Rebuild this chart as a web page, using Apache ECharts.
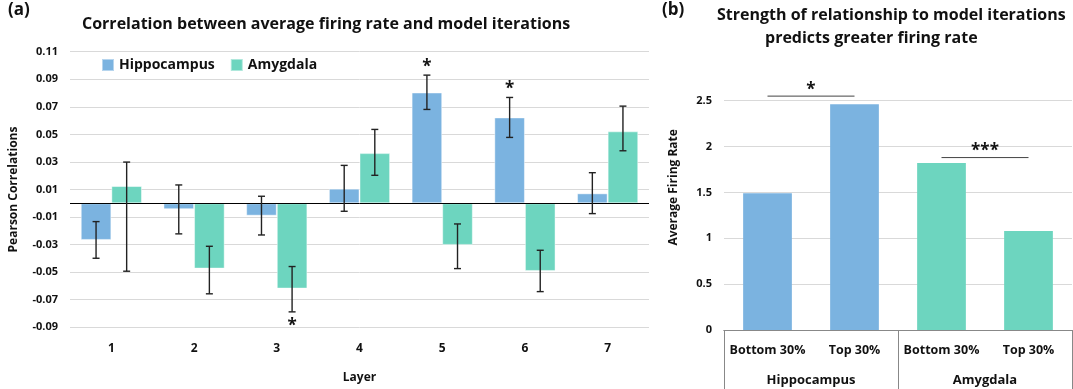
<!DOCTYPE html>
<html>
<head>
<meta charset="utf-8">
<script src="https://cdn.jsdelivr.net/npm/echarts@6/dist/echarts.min.js"></script>
<style>
html,body{margin:0;padding:0;background:#fff;}
#chart{width:1073px;height:389px;}
</style>
</head>
<body>
<div id="chart"></div>
<script>
// ---------- Data: panel (a) ----------
var layers = ['1', '2', '3', '4', '5', '6', '7'];
var hippo = [-0.0266, -0.0043, -0.0090, 0.0106, 0.0804, 0.0623, 0.0072];
var amyg = [0.0125, -0.0474, -0.0619, 0.0364, -0.0302, -0.0491, 0.0522];
var hippoErrHigh = [-0.0133, 0.0133, 0.0051, 0.0275, 0.0930, 0.0768, 0.0222];
var hippoErrLow = [-0.0399, -0.0222, -0.0230, -0.0058, 0.0681, 0.0478, -0.0075];
var amygErrHigh = [0.0299, -0.0312, -0.0459, 0.0536, -0.0150, -0.0341, 0.0705];
var amygErrLow = [-0.0493, -0.0657, -0.0788, 0.0203, -0.0474, -0.0641, 0.0381];
var hippoSig = ['', '', '', '', '*', '*', ''];
var amygSig = ['', '', '*', '', '', '', ''];
var yTicksA = { min: -0.09, max: 0.11, step: 0.02 };

// ---------- Data: panel (b) ----------
var groupLabels = ['Bottom 30%', 'Top 30%', 'Bottom 30%', 'Top 30%'];
var regions = ['Hippocampus', 'Amygdala'];
var barRegion = [0, 0, 1, 1];
var firingRate = [1.49, 2.46, 1.82, 1.08];
var sigFrom = [0, 2];
var sigTo = [1, 3];
var sigLevel = [2.55, 1.88];
var sigText = ['*', '***'];
var yTicksB = { min: 0, max: 2.5, step: 0.5 };

// ---------- Styles ----------
var BLUE = '#7BB3E0';
var GREEN = '#6DD5BF';
var FONT = '"Open Sans", "Noto Sans", sans-serif';
var regionColors = [BLUE, GREEN];
var CAT_GAP = 0.26;

function errSeries(name, values, lows, highs, sigs, side) {
  var data = values.map(function (v, i) { return [i, lows[i], highs[i], v]; });
  return {
    name: name + ' err',
    type: 'custom',
    xAxisIndex: 0, yAxisIndex: 0,
    z: 10,
    silent: true,
    renderItem: function (params, api) {
      var idx = api.value(0);
      var band = api.size([1, 0])[0];
      var bw = band * (1 - CAT_GAP) / 2;
      var hi = api.coord([idx, api.value(2)]);
      var lo = api.coord([idx, api.value(1)]);
      var x = hi[0] + side * bw / 2;
      var cap = 3.5;
      var style = { stroke: '#222', lineWidth: 1.4 };
      var children = [
        { type: 'line', shape: { x1: x, y1: hi[1], x2: x, y2: lo[1] }, style: style },
        { type: 'line', shape: { x1: x - cap, y1: hi[1], x2: x + cap, y2: hi[1] }, style: style },
        { type: 'line', shape: { x1: x - cap, y1: lo[1], x2: x + cap, y2: lo[1] }, style: style }
      ];
      var sig = sigs[idx];
      if (sig) {
        var positive = api.value(3) >= 0;
        children.push({
          type: 'text',
          style: {
            text: sig, x: x, y: positive ? hi[1] - 8 : lo[1] + 14,
            align: 'center', verticalAlign: 'middle',
            font: 'bold 17px ' + FONT, fill: '#111'
          }
        });
      }
      return { type: 'group', children: children };
    },
    encode: { x: 0, y: [1, 2] },
    data: data
  };
}

var boldLabel = { fontFamily: FONT, fontWeight: 'bold', color: '#111' };

var option = {
  animation: false,
  backgroundColor: '#fff',
  textStyle: { fontFamily: FONT },
  title: [
    { text: '(a)', left: 8, top: 2, padding: 0, textStyle: { fontFamily: FONT, fontWeight: 'bold', fontSize: 17, color: '#111' } },
    { text: 'Correlation between average firing rate and model iterations', left: 82, top: 16, padding: 0, textStyle: { fontFamily: FONT, fontWeight: 'bold', fontSize: 16, color: '#111' } },
    { text: '(b)', left: 662, top: 2, padding: 0, textStyle: { fontFamily: FONT, fontWeight: 'bold', fontSize: 17, color: '#111' } },
    { text: 'Strength of relationship to model iterations', left: 717, top: 7, padding: 0, textStyle: { fontFamily: FONT, fontWeight: 'bold', fontSize: 16, color: '#111' } },
    { text: 'predicts greater firing rate', left: 765, top: 30, padding: 0, textStyle: { fontFamily: FONT, fontWeight: 'bold', fontSize: 16, color: '#111' } }
  ],
  legend: {
    left: 101, top: 58, padding: 0,
    itemWidth: 12, itemHeight: 12, itemGap: 15,
    icon: 'rect',
    data: ['Hippocampus', 'Amygdala'],
    textStyle: { fontFamily: FONT, fontWeight: 'bold', fontSize: 14, color: '#111' }
  },
  grid: [
    { left: 67, right: 424, top: 51.7, bottom: 61.7 },
    { left: 724, right: 1, top: 100.7, bottom: 59 }
  ],
  xAxis: [
    {
      type: 'category', gridIndex: 0, data: layers,
      name: 'Layer', nameLocation: 'middle', nameGap: 44,
      nameTextStyle: { fontFamily: FONT, fontWeight: 'bold', fontSize: 12, color: '#111' },
      axisLine: { show: false, onZero: false },
      axisTick: { show: false },
      axisLabel: Object.assign({ fontSize: 12, margin: 15 }, boldLabel)
    },
    {
      type: 'category', gridIndex: 1, data: groupLabels,
      axisLine: { show: true, onZero: false, lineStyle: { color: '#888', width: 1 } },
      axisTick: { show: false },
      axisLabel: Object.assign({ fontSize: 12.5, margin: 14, interval: 0 }, boldLabel)
    },
    {
      type: 'category', gridIndex: 1, data: regions, position: 'bottom',
      axisLine: { show: true, onZero: false, lineStyle: { color: '#888', width: 1 } },
      axisTick: { show: true, length: 60, lineStyle: { color: '#888', width: 1 } },
      axisLabel: Object.assign({ fontSize: 13, margin: 44 }, boldLabel)
    }
  ],
  yAxis: [
    {
      type: 'value', gridIndex: 0,
      min: yTicksA.min, max: yTicksA.max, interval: yTicksA.step,
      name: 'Pearson Correlations', nameLocation: 'middle', nameGap: 50, nameRotate: 90,
      nameTextStyle: { fontFamily: FONT, fontWeight: 'bold', fontSize: 12, color: '#111' },
      axisLine: { show: false }, axisTick: { show: false },
      splitLine: { show: true, lineStyle: { color: '#d9d9d9', width: 1 } },
      axisLabel: Object.assign({ fontSize: 11, margin: 12, formatter: function (v) { return v.toFixed(2); } }, boldLabel)
    },
    {
      type: 'value', gridIndex: 1,
      min: yTicksB.min, max: yTicksB.max, interval: yTicksB.step,
      name: 'Average Firing Rate', nameLocation: 'middle', nameGap: 44, nameRotate: 90,
      nameTextStyle: { fontFamily: FONT, fontWeight: 'bold', fontSize: 12, color: '#111', padding: [0, 0, 0, 56] },
      axisLine: { show: false }, axisTick: { show: false },
      splitLine: { show: true, lineStyle: { color: '#d9d9d9', width: 1 } },
      axisLabel: Object.assign({ fontSize: 11, margin: 12 }, boldLabel)
    }
  ],
  series: [
    {
      name: 'Hippocampus', type: 'bar', xAxisIndex: 0, yAxisIndex: 0,
      data: hippo, barGap: '0%', barCategoryGap: (CAT_GAP * 100) + '%',
      itemStyle: { color: BLUE, borderColor: 'rgba(255,255,255,0.45)', borderWidth: 1 },
      markLine: {
        silent: true, symbol: 'none', label: { show: false },
        lineStyle: { color: '#000', width: 1, type: 'solid' },
        data: [{ yAxis: 0 }]
      }
    },
    {
      name: 'Amygdala', type: 'bar', xAxisIndex: 0, yAxisIndex: 0,
      data: amyg, barGap: '0%', barCategoryGap: (CAT_GAP * 100) + '%',
      itemStyle: { color: GREEN, borderColor: 'rgba(255,255,255,0.45)', borderWidth: 1 }
    },
    errSeries('Hippocampus', hippo, hippoErrLow, hippoErrHigh, hippoSig, -1),
    errSeries('Amygdala', amyg, amygErrLow, amygErrHigh, amygSig, 1),
    {
      name: 'Firing rate', type: 'bar', xAxisIndex: 1, yAxisIndex: 1,
      barWidth: '56%',
      data: firingRate.map(function (v, i) {
        return { value: v, itemStyle: { color: regionColors[barRegion[i]] } };
      })
    },
    {
      name: 'Significance', type: 'custom', xAxisIndex: 1, yAxisIndex: 1,
      silent: true, clip: false, z: 10,
      encode: { x: [0, 1], y: 2 },
      data: sigFrom.map(function (f, i) { return [f, sigTo[i], sigLevel[i]]; }),
      renderItem: function (params, api) {
        var a = api.coord([api.value(0), api.value(2)]);
        var b = api.coord([api.value(1), api.value(2)]);
        return {
          type: 'group',
          children: [
            { type: 'line', shape: { x1: a[0], y1: a[1], x2: b[0], y2: b[1] }, style: { stroke: '#444', lineWidth: 1 } },
            { type: 'text', style: { text: sigText[params.dataIndex], x: (a[0] + b[0]) / 2, y: a[1] - 6,
              align: 'center', verticalAlign: 'middle', font: 'bold 17px ' + FONT, fill: '#111' } }
          ]
        };
      }
    }
  ]
};

var chart = echarts.init(document.getElementById('chart'), null, { renderer: 'canvas' });
chart.setOption(option);
</script>
</body>
</html>
